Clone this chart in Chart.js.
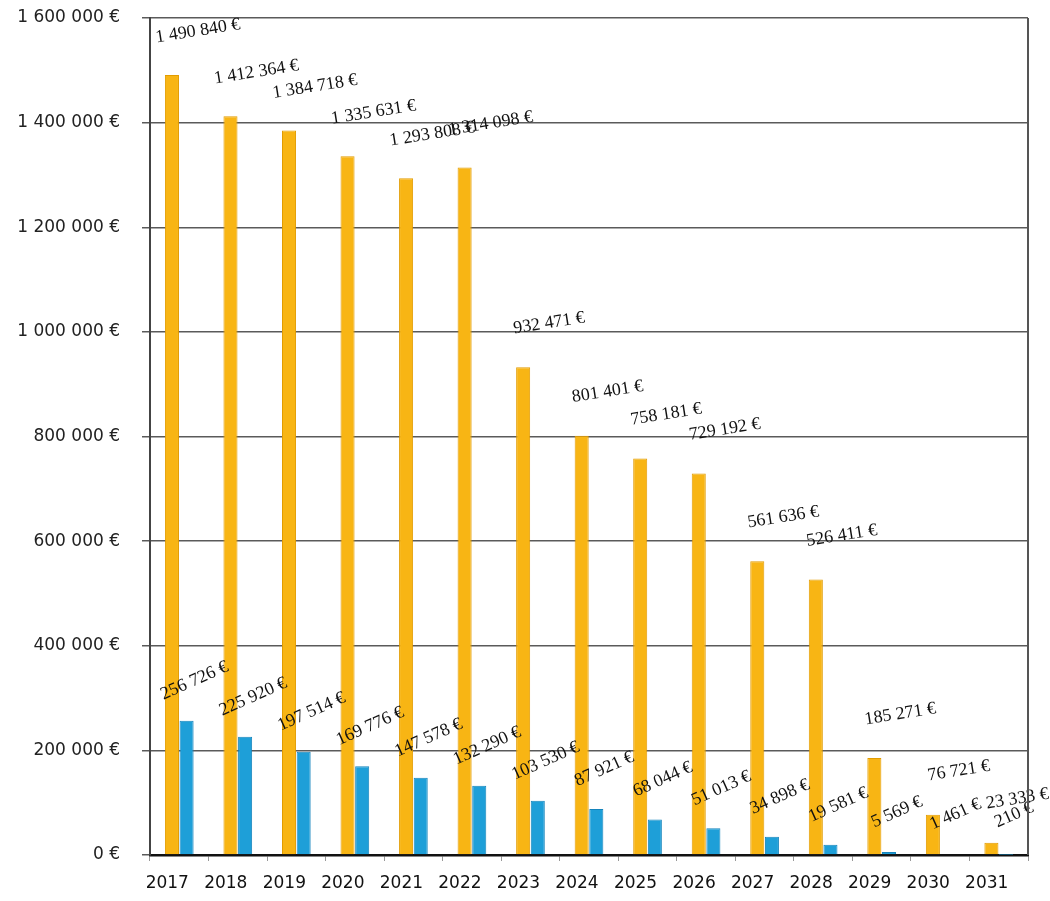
<!DOCTYPE html>
<html>
<head>
<meta charset="utf-8">
<script src="https://cdn.jsdelivr.net/npm/chart.js@4.4.0/dist/chart.umd.min.js"></script>
<style>
  html, body { margin: 0; padding: 0; background: #fff; }
  #wrap { width: 1050px; height: 901px; }
</style>
</head>
<body>
<div id="wrap"><canvas id="chart" width="1050" height="901"></canvas></div>
<script>
// années
const years = ['2017', '2018', '2019', '2020', '2021', '2022', '2023', '2024',
               '2025', '2026', '2027', '2028', '2029', '2030', '2031'];

// série orange (montants élevés)
const orangeValues = [1490840, 1412364, 1384718, 1335631, 1293808, 1314098, 932471, 801401,
                      758181, 729192, 561636, 526411, 185271, 76721, 23333];

// série bleue
const blueValues = [256726, 225920, 197514, 169776, 147578, 132290, 103530, 87921,
                    68044, 51013, 34898, 19581, 5569, 1461, 210];

const yTicks = [0, 200000, 400000, 600000, 800000, 1000000, 1200000, 1400000, 1600000];

function euro(v) {
    return String(v).replace(/\B(?=(\d{3})+(?!\d))/g, ' ') + ' €';
}

// étiquettes inclinées au-dessus des barres
const valueLabels = {
    id: 'valueLabels',
    afterDatasetsDraw(chart) {
        const ctx = chart.ctx;
        const cfg = [
            { dx: 26, dy: -44, rot: -9 },
            { dx: 8, dy: -40, rot: -24 }
        ];
        chart.data.datasets.forEach((ds, di) => {
            const meta = chart.getDatasetMeta(di);
            const c = cfg[di];
            meta.data.forEach((bar, i) => {
                ctx.save();
                ctx.translate(bar.x + c.dx, bar.y + c.dy);
                ctx.rotate(c.rot * Math.PI / 180);
                ctx.font = '18px "Liberation Serif"';
                ctx.fillStyle = '#111';
                ctx.textAlign = 'center';
                ctx.textBaseline = 'middle';
                ctx.fillText(euro(ds.data[i]), 0, 0);
                ctx.restore();
            });
        });
    },
    afterDraw(chart) {
        // cadre à droite
        const a = chart.chartArea;
        const ctx = chart.ctx;
        ctx.save();
        ctx.strokeStyle = '#555';
        ctx.lineWidth = 2;
        ctx.beginPath();
        ctx.moveTo(a.right, a.top);
        ctx.lineTo(a.right, a.bottom);
        ctx.stroke();
        ctx.restore();
    }
};

const ctx = document.getElementById('chart').getContext('2d');
new Chart(ctx, {
    type: 'bar',
    data: {
        labels: years,
        datasets: [{
            data: orangeValues,
            backgroundColor: '#F8B514',
            borderColor: '#E29C00',
            borderWidth: 1,
            categoryPercentage: 0.5,
            barPercentage: 0.96
        }, {
            data: blueValues,
            backgroundColor: '#1E9FD8',
            borderColor: '#1584BC',
            borderWidth: 1,
            categoryPercentage: 0.5,
            barPercentage: 0.96
        }]
    },
    options: {
        responsive: false,
        animation: false,
        layout: { padding: { top: 18, right: 22, bottom: 0, left: 0 } },
        plugins: {
            legend: { display: false },
            tooltip: { enabled: false }
        },
        scales: {
            x: {
                grid: { display: true, drawOnChartArea: false, offset: true, tickLength: 6, color: '#999' },
                border: { display: true, color: '#111', width: 2.5 },
                ticks: {
                    font: { family: 'DejaVu Sans', size: 17 },
                    color: '#111',
                    padding: 12,
                    labelOffset: -12,
                    maxRotation: 0,
                    autoSkip: false
                },
                afterFit(s) { s.height = 46; s.paddingLeft = 0; s.paddingRight = 0; }
            },
            y: {
                min: 0,
                max: 1600000,
                afterBuildTicks(s) { s.ticks = yTicks.map(v => ({ value: v })); },
                grid: { color: '#5a5a5a', lineWidth: 1.5, tickLength: 8 },
                border: { display: true, color: '#444', width: 2 },
                ticks: {
                    font: { family: 'DejaVu Sans', size: 17 },
                    color: '#222',
                    padding: 22,
                    callback: v => euro(v)
                },
                afterFit(s) { s.width = 150; s.paddingTop = 0; s.paddingBottom = 0; }
            }
        }
    },
    plugins: [valueLabels]
});
</script>
</body>
</html>
